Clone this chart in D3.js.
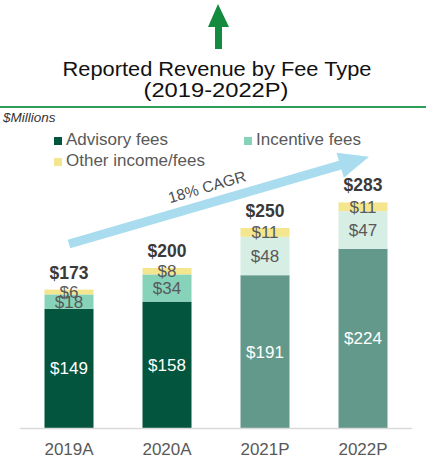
<!DOCTYPE html>
<html>
<head>
<meta charset="utf-8">
<script src="https://cdn.jsdelivr.net/npm/d3@7"></script>
<style>
html,body{margin:0;padding:0;background:#fff;}
svg{display:block;font-family:"Liberation Sans",Arial,sans-serif;}
</style>
</head>
<body>
<svg id="chart" width="426" height="465"></svg>
<script>
const categories = ["2019A", "2020A", "2021P", "2022P"];
const advisory = [149, 158, 191, 224];
const incentive = [18, 34, 48, 47];
const other = [6, 8, 11, 11];
const totals = [173, 200, 250, 283];
const projected = [false, false, true, true];
const seriesNames = ["Advisory fees", "Incentive fees", "Other income/fees"];
const cagrLabel = "18% CAGR";
const cagrFrom = 230, cagrTo = 339;

const colors = {
  advisory: "#03553d", advisoryP: "#63998a",
  incentive: "#86d3b9", incentiveP: "#d7eee5",
  other: "#f3e68e"
};

const svg = d3.select("#chart");

// green up arrow
svg.append("path")
  .attr("d", "M218,4 L229,27 L222,27 L222,49 L215,49 L215,27 L208,27 Z")
  .attr("fill", "#158b40");

// title
svg.append("text").attr("x", 217).attr("y", 76).attr("text-anchor", "middle")
  .attr("font-size", 20).attr("fill", "#111")
  .attr("textLength", 309).attr("lengthAdjust", "spacingAndGlyphs")
  .text("Reported Revenue by Fee Type");
svg.append("text").attr("x", 216).attr("y", 97).attr("text-anchor", "middle")
  .attr("font-size", 20).attr("fill", "#111")
  .attr("textLength", 145).attr("lengthAdjust", "spacingAndGlyphs")
  .text("(2019-2022P)");

svg.append("line").attr("x1", 0).attr("x2", 426).attr("y1", 107).attr("y2", 107)
  .attr("stroke", "#2e9d5a").attr("stroke-width", 2);

svg.append("text").attr("x", 3).attr("y", 122).attr("font-size", 13.5)
  .attr("font-style", "italic").attr("fill", "#333").text("$Millions");

// legend
const legend = [
  {name: seriesNames[0], color: colors.advisory, x: 54, y: 145},
  {name: seriesNames[1], color: colors.incentive, x: 244, y: 145},
  {name: seriesNames[2], color: colors.other, x: 54, y: 166}
];
const lg = svg.append("g").selectAll("g").data(legend).join("g");
lg.append("rect").attr("x", d => d.x).attr("y", d => d.y - 8).attr("width", 8).attr("height", 8)
  .attr("fill", d => d.color);
lg.append("text").attr("x", d => d.x + 12).attr("y", d => d.y).attr("font-size", 17)
  .attr("fill", "#595959").text(d => d.name);

// scales
const x = d3.scaleBand().domain(categories).range([20, 412]).paddingInner(0.5).paddingOuter(0.25);
const y = d3.scaleLinear().domain([0, 300]).range([428, 188]);

const rows = categories.map((c, i) => ({
  cat: c, proj: projected[i], total: totals[i],
  segs: [
    {key: "advisory", v: advisory[i], y0: 0, y1: advisory[i]},
    {key: "incentive", v: incentive[i], y0: advisory[i], y1: advisory[i] + incentive[i]},
    {key: "other", v: other[i], y0: advisory[i] + incentive[i], y1: advisory[i] + incentive[i] + other[i]}
  ]
}));

function segColor(r, s) {
  if (s.key === "other") return colors.other;
  if (s.key === "advisory") return r.proj ? colors.advisoryP : colors.advisory;
  return r.proj ? colors.incentiveP : colors.incentive;
}

const gBars = svg.append("g");
rows.forEach(r => {
  gBars.selectAll(null).data(r.segs).join("rect")
    .attr("x", x(r.cat)).attr("width", x.bandwidth())
    .attr("y", s => y(s.y1)).attr("height", s => y(s.y0) - y(s.y1))
    .attr("fill", s => segColor(r, s));
  gBars.selectAll(null).data(r.segs).join("text")
    .attr("x", x(r.cat) + x.bandwidth() / 2)
    .attr("y", s => (y(s.y0) + y(s.y1)) / 2 + 6)
    .attr("text-anchor", "middle").attr("font-size", 17)
    .attr("fill", s => s.key === "advisory" ? "#ffffff" : "#595959")
    .text(s => "$" + s.v);
  gBars.append("text")
    .attr("x", x(r.cat) + x.bandwidth() / 2)
    .attr("y", y(r.segs[2].y1) - 11)
    .attr("text-anchor", "middle").attr("font-size", 17.5).attr("font-weight", "bold")
    .attr("fill", "#3a3a3a").text("$" + r.total);
});

// axis
svg.append("line").attr("x1", 20).attr("x2", 412).attr("y1", 428.5).attr("y2", 428.5)
  .attr("stroke", "#d9d9d9").attr("stroke-width", 1.5);
const xAxis = svg.append("g").attr("transform", "translate(0,428)")
  .call(d3.axisBottom(x).tickSize(0).tickPadding(15));
xAxis.select(".domain").remove();
xAxis.selectAll("text").attr("font-size", 17).attr("fill", "#595959")
  .attr("font-family", "Liberation Sans, Arial, sans-serif");

// CAGR arrow
const x0 = x(categories[0]) + x.bandwidth() / 2, y0 = y(cagrFrom);
const x1 = x(categories[3]) + x.bandwidth() / 2 + 6, y1 = y(cagrTo);
const len = Math.hypot(x1 - x0, y1 - y0);
const ang = Math.atan2(y1 - y0, x1 - x0) * 180 / Math.PI;
const arr = svg.append("g").attr("transform", `translate(${x0},${y0}) rotate(${ang})`);
const hw = 4.5, headL = 30, headW = 13;
arr.append("path")
  .attr("d", `M0,${-hw} L${len - headL},${-hw} L${len - headL},${-headW} L${len},0 L${len - headL},${headW} L${len - headL},${hw} L0,${hw} Z`)
  .attr("fill", "#a8dcee");
arr.append("text").attr("x", len * 0.475).attr("y", -11).attr("text-anchor", "middle")
  .attr("font-size", 15.5).attr("fill", "#4d4d4d").text(cagrLabel);
</script>
</body>
</html>
